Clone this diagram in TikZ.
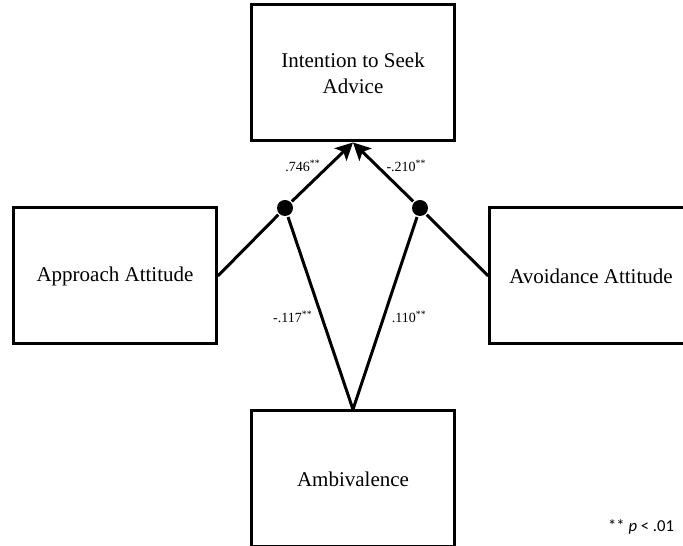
\documentclass[tikz,border=0pt]{standalone}
\usepackage{fontspec}
\setmainfont{Liberation Serif}
\newfontfamily\notefont{Carlito}
\usetikzlibrary{arrows.meta}

\begin{document}
\begin{tikzpicture}[->,>={Stealth[length=13pt,width=13pt,inset=3pt]},
                    x=0.75pt,y=0.75pt,line width=2.25pt]
  \tikzstyle{box}=[draw,rectangle,minimum width=152pt,minimum height=102pt,
                   align=center,font=\fontsize{15.75}{19.5}\selectfont]
  \tikzstyle{dot}=[circle,fill=black,inner sep=0pt,minimum size=12pt]
  \tikzstyle{coef}=[font=\fontsize{10.5}{12}\selectfont,inner sep=3pt]

  \useasboundingbox (0,0) rectangle (683,546);

  \node[box] (Int) at (353,473) {Intention to Seek\\Advice};
  \node[box] (App) at (115,270) {Approach Attitude};
  \node[box] (Avo) at (591,270) {Avoidance Attitude};
  \node[box] (Amb) at (353,67)  {Ambivalence};
  \node[dot] (L)   at (285,338) {};
  \node[dot] (R)   at (420,338) {};

  \path (L)   edge node[coef,left,pos=.6,xshift=-2pt] {.746\textsuperscript{**}} (Int.south)
        (R)   edge node[coef,right,pos=.6,xshift=3pt] {-.210\textsuperscript{**}} (Int.south)
        (App.east) edge[-] (L)
        (Avo.west) edge[-] (R)
        (Amb.north) edge[-] node[coef,left,pos=.48,xshift=-3pt]  {-.117\textsuperscript{**}} (L)
                    edge[-] node[coef,right,pos=.48,xshift=2pt] {.110\textsuperscript{**}} (R);

  \node[font=\notefont\fontsize{12.5}{14}\selectfont,anchor=east] (note) at (680,19)
       {** \textit{p} < .01};
\end{tikzpicture}
\end{document}
